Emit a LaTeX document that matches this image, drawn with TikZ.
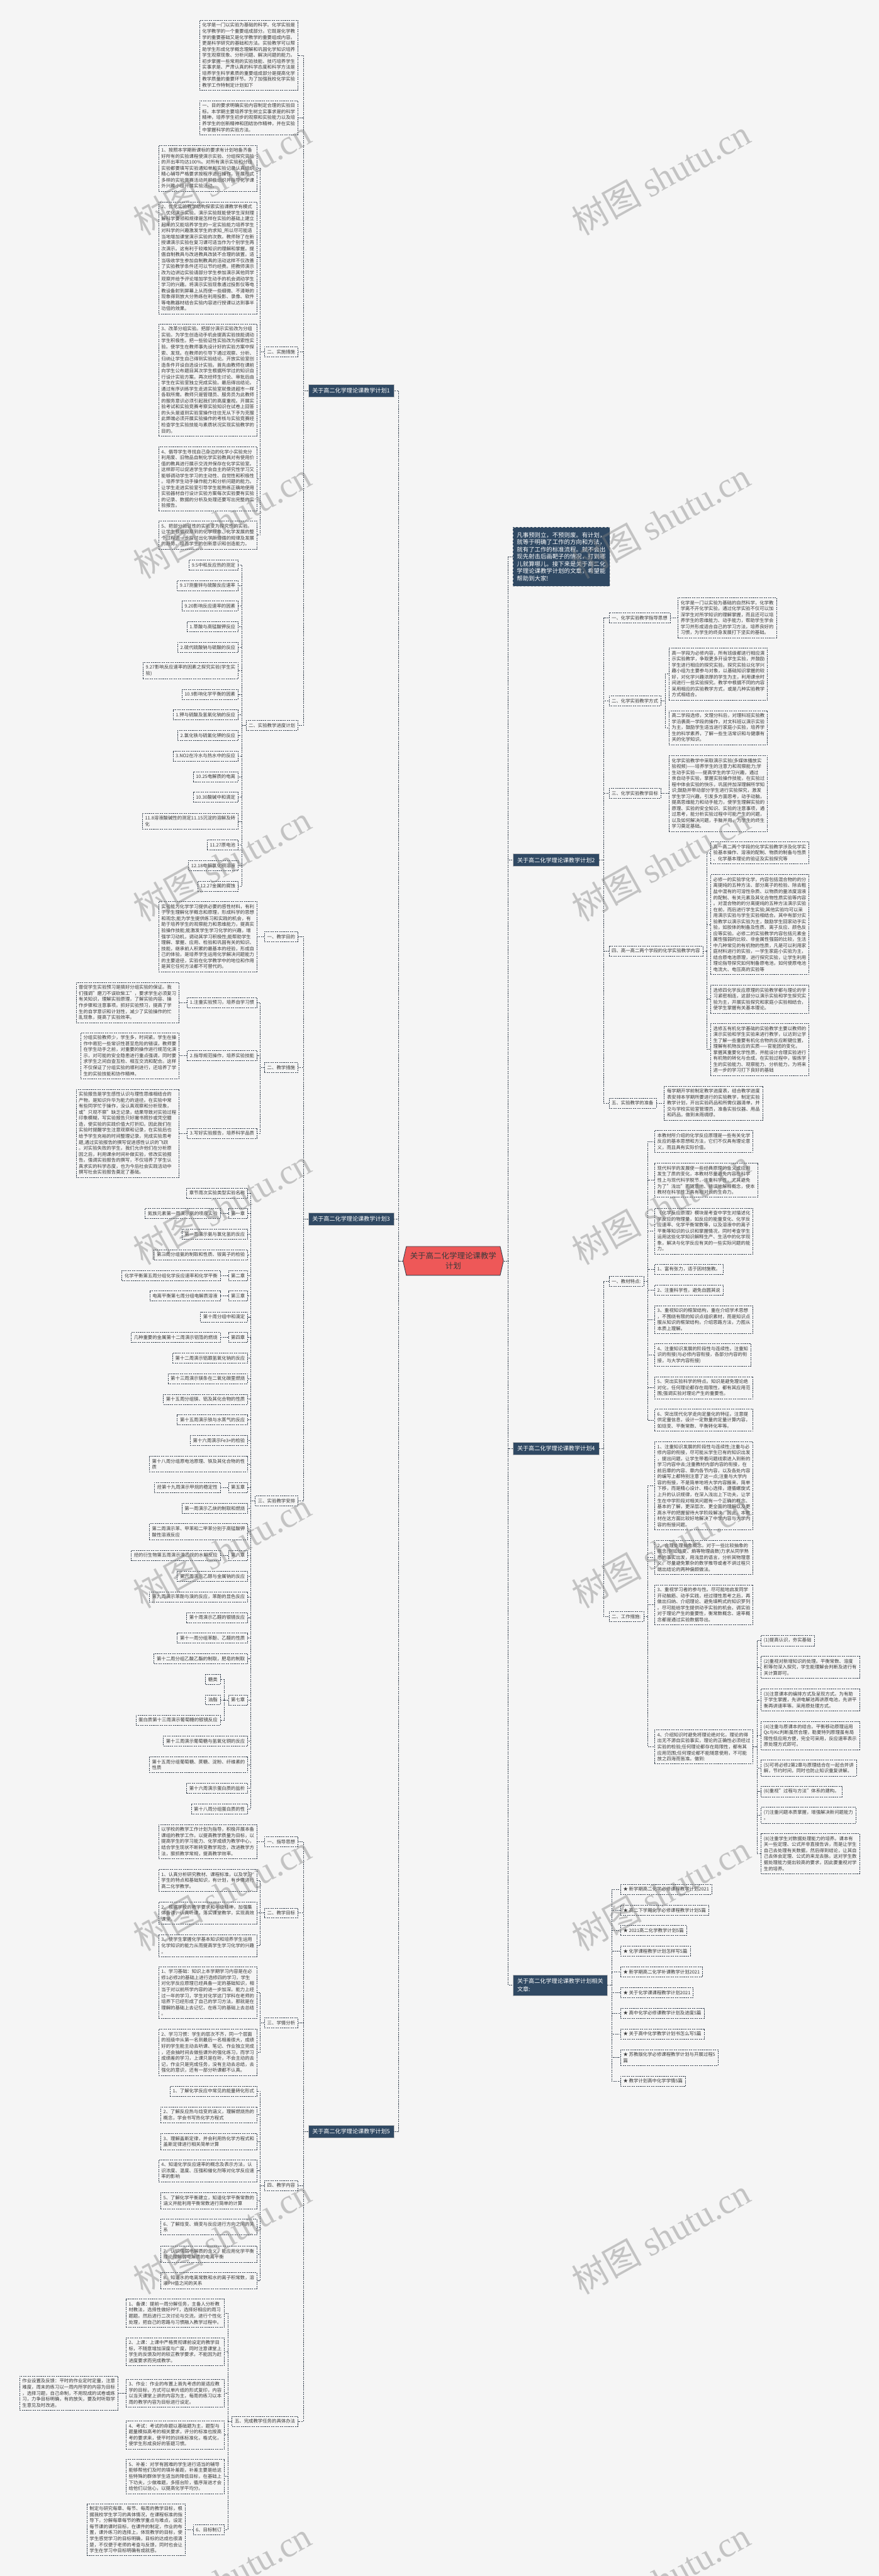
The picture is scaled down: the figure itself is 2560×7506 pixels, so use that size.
\documentclass[tikz,border=0pt]{standalone}
\usepackage{fontspec}
\setmainfont{Noto Sans CJK SC}
\newfontfamily\wmlatin{Liberation Serif}
\usetikzlibrary{shapes.symbols}

\definecolor{bgc}{RGB}{245,245,245}
\definecolor{hdrc}{RGB}{48,73,99}
\definecolor{rootc}{RGB}{238,88,88}
\definecolor{linec}{RGB}{52,64,78}
\definecolor{textc}{RGB}{58,58,58}

\newcommand{\leaffont}{\fontsize{7.7pt}{9.95pt}\selectfont}
\newcommand{\hdrfont}{\fontsize{9.5pt}{13.5pt}\selectfont}
\newcommand{\introfont}{\fontsize{9.8pt}{12pt}\selectfont}
\newcommand{\rootfont}{\fontsize{13pt}{16.5pt}\selectfont}
\newcommand{\wmarkfont}{\fontsize{58pt}{60pt}\selectfont}

\tikzset{
  leaf/.style={draw=linec, dash pattern=on 2.2pt off 1.4pt, line width=0.55pt,
    text=textc, font=\leaffont, align=left, inner xsep=0.16cm, inner ysep=0.165cm},
  hdr/.style={draw=gray!45, fill=hdrc, text=white, font=\hdrfont, align=left,
    inner xsep=0.24cm, inner ysep=0.21cm},
  introbox/.style={hdr, dashed, font=\introfont, inner xsep=0.24cm, inner ysep=0.3cm},
  rootbox/.style={shape=signal, signal to=east and west, signal pointer angle=154,
    draw=linec, line width=0.9pt, fill=rootc, text=textc, font=\rootfont,
    align=center, inner xsep=0.22cm, inner ysep=0.34cm},
  link/.style={draw=linec, dash pattern=on 2.2pt off 1.4pt, line width=0.7pt},
  wmark/.style={text=gray, opacity=0.42, rotate=29, font=\wmarkfont}
}

\begin{document}
\begin{tikzpicture}[x=0.02cm, y=-0.02cm]
    \useasboundingbox (0,0) rectangle (2560,7506);
    \fill[bgc] (0,0) rectangle (2560,7506);

    % Root
    \node[rootbox] (root) at (1320,3674) {关于高二化学理论课教学\\计划};

    % Right: intro
    \node[introbox, anchor=west] (intro) at (1493,1622) {凡事预则立，不预则废。有计划，\\就等于明确了工作的方向和方法，\\就有了工作的标准流程。就不会出\\现先射击后画靶子的情况，打到哪\\儿就算哪儿。接下来是关于高二化\\学理论课教学计划的文章，希望能\\帮助到大家!};

    % Right: plan 2
    \node[hdr, anchor=west] (plan2) at (1494,2506) {关于高二化学理论课教学计划2};
    \node[leaf, anchor=west] (p2a) at (1773,1800) {一、化学实验教学指导思想};
    \node[leaf, anchor=west] (p2a1) at (1974,1800) {化学是一门以实验为基础的自然科学，化学教\\学离不开化学实验，通过化学实验不仅可以加\\深学生对所学知识的理解掌握，而且还可以培\\养学生的思维能力、动手能力，帮助学生学会\\学习并形成适合自己的学习方法，培养良好的\\习惯，为学生的终身发展打下坚实的基础。};
    \node[leaf, anchor=west] (p2b) at (1773,2042) {二、化学实验教学方式};
    \node[leaf, anchor=west] (p2b1) at (1948,1964) {高一学段为必修内容，所有班级都进行相应演\\示实验教学，争取更多开设学生实验，并鼓励\\学生进行相应的探究实验。探究实验以化学兴\\趣小组为主要参与对象，以基础知识掌握的较\\好，对化学兴趣浓厚的学生为主，利用课余时\\间进行一些实验探究。教学中根据不同的内容\\采用相应的实验教学方式，或是几种实验教学\\方式相结合。};
    \node[leaf, anchor=west] (p2b2) at (1948,2120) {高二学段选修，文理分科后，对理科班实验教\\学沿袭高一学段的操作，对文科班以演示实验\\为主，鼓励学生适当进行家庭小实验，培养学\\生的科学素养，了解一些生活常识和与健康有\\关的化学知识。};
    \node[leaf, anchor=west] (p2c) at (1773,2312) {三、化学实验教学目标};
    \node[leaf, anchor=west] (p2c1) at (1948,2312) {化学实验教学中采取演示实验(多媒体播放实\\验视频)——培养学生的注意力和观察能力;学\\生动手实验——提高学生的学习兴趣，通过\\亲自动手实验，掌握实验操作技能，在实验过\\程中体会实验的快乐，巩固并加深理解所学知\\识;鼓励并带动部分学生进行实验探究，激发\\学生学习兴趣，引发多方面思考，动手动脑，\\提高思维能力和动手能力，使学生理解实验的\\原理、实验的安全知识、实验的注意事项，通\\过思考，能分析实验过程中可能产生的问题，\\以及如何解决问题，手脑并用，为学生的终生\\学习奠定基础。};
    \node[leaf, anchor=west] (p2d) at (1773,2771) {四、高一高二两个学段的化学实验教学内容};
    \node[leaf, anchor=west] (p2d1) at (2069,2485) {高一高二两个学段的化学实验教学涉及化学实\\验基本操作、溶液的配制、物质的制备与性质\\、化学基本理论的验证及实验探究等};
    \node[leaf, anchor=west] (p2d2) at (2069,2694) {必修一的实验学化学，内容包括混合物的的分\\离提纯的五种方法、部分离子的检验、除去粗\\盐中混有的可溶性杂质、以物质的量浓度溶液\\的配制、有关元素及其化合物性质实验等内容\\。对混合物的的分离提纯的五种方法演示实验\\在前，而后进行学生实验;其他实验均可以采\\用演示实验与学生实验相结合。其中有部分实\\验教学以演示实验为主，鼓励学生回家动手实\\验，如胶体的制备及性质、离子反应、颜色反\\应等实验。必修二的实验教学内容包括元素金\\属性强弱的比较、非金属性强弱的比较，生活\\中几种常见的有机物的性质，凡是可以利用家\\庭材料进行的实验，一学生家庭小实验为主，\\结合原电池原理，进行探究实验，让学生利用\\理论指导探究如何制备原电池，如何使原电池\\电流大、电压高的实验等};
    \node[leaf, anchor=west] (p2d3) at (2069,2911) {选修四化学反应原理的实验教学都与理论的学\\习紧密相连，这部分以演示实验和学生探究实\\验为主，开展实验探究和家庭小实验相结合，\\使学生掌握有关基本理论。};
    \node[leaf, anchor=west] (p2d4) at (2069,3058) {选修五有机化学基础的实验教学主要以教师的\\演示实验和学生实验来进行教学，以达到让学\\生了解一些重要有机化合物的反应断键位置，\\理解有机物反应的实质——官能团的变化，\\掌握其重要化学性质，并能设计合理实验进行\\有机物的转化与合成，在实验过程中，锻炼学\\生的实验能力、观察能力、分析能力，为将来\\进一步的学习打下良好的基础};
    \node[leaf, anchor=west] (p2e) at (1773,3214) {五、实验教学的准备};
    \node[leaf, anchor=west] (p2e1) at (1934,3214) {每学期开学前制定教学进度表，结合教学进度\\表安排本学期所要进行的实验教学，制定实验\\教学计划，开出实验药品和所需仪器清单，并\\交与学校实验室管理员，准备实验仪器、用品\\和药品，做到未雨绸缪。};

    % Right: plan 4
    \node[hdr, anchor=west] (plan4) at (1494,4221) {关于高二化学理论课教学计划4};
    \node[leaf, anchor=west] (p4a) at (1773,3734) {一、教材特点:};
    \node[leaf, anchor=west] (p4a1) at (1906,3326) {本教材所介绍的化学反应原理是一些有关化学\\反应的基本思想和方法，它们不仅具有理论意\\义，而且具有实际价值。};
    \node[leaf, anchor=west] (p4a2) at (1906,3439) {现代科学的发展使一些经典原理的含义或应用\\发生了质的变化，本教材尽量避免内容在科学\\性上与现代科学脱节，注重科学性，尤其避免\\为了"浅出"而随意地、错误地解释概念，使本\\教材在科学性上具有相对长的生命力。};
    \node[leaf, anchor=west] (p4a3) at (1906,3587) {《化学反应原理》模块是考查中学生对描述化\\学反应的物理量，如反应的能量变化、化学反\\应速率、化学平衡常数等，以及溶液中的离子\\平衡等知识的认识和掌握情况，同时考查学生\\运用这些化学知识解释生产、生活中的化学现\\象，解决与化学反应有关的一些实际问题的能\\力。};
    \node[leaf, anchor=west] (p4a4) at (1906,3698) {1、富有张力，适于因材施教。};
    \node[leaf, anchor=west] (p4a5) at (1906,3759) {2、注重科学性，避免自圆其说};
    \node[leaf, anchor=west] (p4a6) at (1906,3845) {3、重视知识的框架结构，重在介绍学术思想\\，不围绕有限的知识点组织素材，而是知识点\\服从知识的框架结构，介绍思路方法，力图从\\本质上理解。};
    \node[leaf, anchor=west] (p4a7) at (1906,3948) {4、注重知识发展的阶段性与连续性。注重知\\识的衔接(与必修内容衔接，各部分内容的衔\\接，与大学内容衔接)};
    \node[leaf, anchor=west] (p4a8) at (1906,4044) {5、突出实验科学的特点。知识是避免理论绝\\对化，任何理论都存在局限性，都有其应用范\\围;强调实验对理论产生的重要性。};
    \node[leaf, anchor=west] (p4a9) at (1906,4138) {6、突出现代化学走向定量化的特征。注意提\\供定量信息，设计一定数量的定量计算内容，\\如焓变、平衡常数、平衡转化率等。};
    \node[leaf, anchor=west] (p4b) at (1773,4710) {二、工作措施:};
    \node[leaf, anchor=west] (p4b1) at (1906,4329) {1、注重知识发展的阶段性与连续性;注重与必\\修内容的衔接，尽可能从学生已有的知识出发\\，提出问题，让学生带着问题线索进入到新的\\学习内容中去;注重教材内部内容的衔接，在\\前后章的内容、章内各节内容，以及各处内容\\的编写上都特别注意了这一点;注重与大学内\\容的衔接，不是简单地将大学内容搬来，简单\\下移，而是精心设计、精心选择，遵循螺旋式\\上升的认识规律，在深入浅出上下功夫，让学\\生在中学阶段对相关问题有一个正确的概念、\\基本的了解，更深层次、更全面的理解以及更\\高水平的把握留待大学阶段解决。因此，本教\\材在这方面比较好地解决了中学内容与大学内\\容的衔接问题。};
    \node[leaf, anchor=west] (p4b2) at (1906,4538) {2、合理处理抽象概念。对于一些比较抽象的\\概念(例如焓变、熵等物理函数)力求从同学熟\\悉的事实出发，用浅显的语言，分析其物理意\\义。尽量避免繁杂的数学推导或者不讲过程只\\端出结论的两种偏颇做法。};
    \node[leaf, anchor=west] (p4b3) at (1906,4676) {3、重视学习者的参与性。尽可能地启发同学\\开动脑筋、动手实践，经过理性思考之后，再\\做出归纳、介绍理论、避免填鸭式的知识罗列\\。尽可能给学生提供动手实验的机会。调实验\\对于理论产生的重要性，衡常数概念、速率概\\念都是通过实验数据导出。};
    \node[leaf, anchor=west] (p4b4) at (1906,5090) {4、介绍知识时避免将理论绝对化，理论的得\\出无不源自实验事实，理论的正确性必须经过\\实验的检验;任何理论都存在局限性，都有其\\应用范围;任何理论都不能随意使用，不可能\\放之四海而皆准。做到:};
    \node[leaf, anchor=west] (p4c1) at (2216,4780) {(1)提高认识，夯实基础};
    \node[leaf, anchor=west] (p4c2) at (2216,4858) {(2)重视对新增知识的处理。平衡常数、溶度\\积等勿深入探究，学生能理解会判断及进行有\\关计算即可。};
    \node[leaf, anchor=west] (p4c3) at (2216,4953) {(3)注意课本的编排方式及呈现方式。为有助\\于学生掌握，先讲电解池再讲原电池，先讲平\\衡再讲速率等。采用原处理方式。};
    \node[leaf, anchor=west] (p4c4) at (2216,5057) {(4)注重与原课本的结合。平衡移动原理运用\\Qc与Kc判断虽然合理，勒夏特列原理虽有局\\限性但应用方便，完全可采用，反应速率表示\\原处理方式即可。};
    \node[leaf, anchor=west] (p4c5) at (2216,5152) {(5)可将必修2第2章与原理结合在一起合并讲\\解，节约时间，同时也防止知识重复讲解。};
    \node[leaf, anchor=west] (p4c6) at (2216,5220) {(6)重视"过程与方法"体系的建构。};
    \node[leaf, anchor=west] (p4c7) at (2216,5289) {(7)注重问题本质掌握，增强解决新问题能力\\。};
    \node[leaf, anchor=west] (p4c8) at (2216,5401) {(8)注重学生对数据处理能力的培养。课本有\\关一些定理、公式并非直接告诉，而是让学生\\自己去处理有关数据，然后得到结论，让其自\\己去体会定理、公式的来龙去脉。这对学生数\\据处理能力提出较高的要求，因此要重视对学\\生的培养。};

    % Right: related articles
    \node[hdr, anchor=west] (related) at (1494,5784) {关于高二化学理论课教学计划相关\\文章:};
    \node[leaf, anchor=west] (rel1) at (1807,5505) {★ 新学期高二化学必修课程教学计划2021};
    \node[leaf, anchor=west] (rel2) at (1807,5566) {★ 高二下学期化学必修课程教学计划5篇};
    \node[leaf, anchor=west] (rel3) at (1807,5625) {★ 2021高二化学教学计划5篇};
    \node[leaf, anchor=west] (rel4) at (1807,5685) {★ 化学课程教学计划怎样写5篇};
    \node[leaf, anchor=west] (rel5) at (1807,5746) {★ 新学期高二化学补课教学计划2021};
    \node[leaf, anchor=west] (rel6) at (1807,5806) {★ 关于化学课课程教学计划2021};
    \node[leaf, anchor=west] (rel7) at (1807,5866) {★ 高中化学必修课教学计划及进度5篇};
    \node[leaf, anchor=west] (rel8) at (1807,5926) {★ 关于高中化学教学计划书怎么写5篇};
    \node[leaf, anchor=west] (rel9) at (1807,5995) {★ 苏教版化学必修课程教学计划与开展过程5\\篇};
    \node[leaf, anchor=west] (rel10) at (1807,6064) {★ 教学计划高中化学学情5篇};

    % Left: plan 1
    \node[hdr, anchor=east] (plan1) at (1148,1138) {关于高二化学理论课教学计划1};
    \node[leaf, anchor=east] (p1a) at (868,161) {化学是一门以实验为基础的科学。化学实验是\\化学教学的一个重要组成部分。它既是化学教\\学的重要基础又是化学教学的重要组成内容。\\更是科学研究的基础和方法。实验教学可以帮\\助学生形成化学概念理解和巩固化学知识培养\\学生观察现象、分析问题、解决问题的能力。\\初步掌握一些常用的实验技能、技巧培养学生\\实事求是、严肃认真的科学态度和科学方法是\\培养学生科学素质的重要组成部分是提高化学\\教学质量的重要环节。为了加强我校化学实验\\教学工作特制定计划如下};
    \node[leaf, anchor=east] (p1b) at (868,343) {一、目的要求明确实验内容制定合理的实验目\\标。本学期主要培养学生树立实事求是的科学\\精神，培养学生初步的观察和实验能力以及培\\养学生的创新精神和团结协作精神，并在实验\\中掌握科学的实验方法。};
    \node[leaf, anchor=east] (p1c) at (868,1025) {二、实施措施};
    \node[leaf, anchor=east] (p1c1) at (749,490) {1、按照本学期新课标的要求有计划地备齐备\\好所有的实验课程使演示实验、分组探究实验\\的开出率均达100\%。对所有演示实验和分组\\实验都要填写实验通知单和实验记录认真组织\\精心辅导严格要求按程序进行操作。开展形式\\多样的实验竞赛活动并积极组织并指导化学课\\外兴趣小组开展实验活动。};
    \node[leaf, anchor=east] (p1c2) at (749,751) {2、优化实验教学结构探索实验课教学有模式\\。优化演示实验。演示实验既能使学生深刻理\\解科学要领和规律是怎样在实验的基础上建立\\起来的又能培养学生的一定实验能力培养学生\\对科学的兴趣激发学生的求知\_所以尽可能适\\当地增加课堂演示实验的次数。教师除了在新\\授课演示实验在复习课可适当作为个别学生再\\次演示。这有利于较难知识的理解和掌握。提\\倡自制教具与改进教具改装不合理的装置。适\\当吸收学生参加自制教具的活动这样不仅改善\\了实验教学条件还可以节约经费。把教师演示\\改为边讲边实验请部分学生参加演示其他同学\\观察并给予评论增加学生动手的机会调动学生\\学习的兴趣。将演示实验现象通过投影仪等电\\教设备射到屏幕上从而使一些细微、不清晰的\\现象得到放大分熟练在利用投影、录像、软件\\等电教器材结合实验内容进行授课以达到事半\\功倍的效果。};
    \node[leaf, anchor=east] (p1c3) at (749,1107) {3、改革分组实验。把部分演示实验改为分组\\实验。为学生创造动手机会提高实验技能调动\\学生积极性。把一些验证性实验改为探索性实\\验。使学生在教师事先设计好的实验方案中探\\索、发现。在教师的引导下通过观察、分析、\\归纳让学生自己得到实验结论。开放实验室创\\造条件开设自选设计实验。首先由教师在课前\\向学生公布题目其次学生根据所学过的知识自\\行设计实验方案。再次经师生讨论、审批后由\\学生在实验室独立完成实验。最后得出结论。\\通过有序训练学生走进实验室就像进超市一样\\各取所需。教师只是管理员、服务员为此教师\\的服务意识必须引起我们的高度重视。开展实\\验考试和实验竞赛考察实验知识在试卷上回答\\的头头是道到实验室操作往往无从下手为克服\\此弊端必须开展实验操作的考核与实验竞赛经\\检查学生实验技能与素质状况实现实验教学的\\目的。};
    \node[leaf, anchor=east] (p1c4) at (749,1395) {4、倡导学生寻找自己身边的化学小实验充分\\利用废、旧物品自制化学实验教具对有使用价\\值的教具进行展示交流并保存在化学实验室。\\这样即可以促进学生学会自主的研究性学习又\\能够调动学生学习的主动性、自觉性和积极性\\。培养学生动手操作能力和分析问题的能力。\\让学生走进实验室引导学生能熟练正确地使用\\实验器材自行设计实验方案每次实验要有实验\\的记录、数据的分析及处理还要写出完整的实\\验报告。};
    \node[leaf, anchor=east] (p1c5) at (749,1559) {5、把部分验证性的实验变为探究性的实验。\\让学生根据观察到的化学现象、化学发展的整\\个过程进一步探讨出化学所遵循的规律及发展\\的趋势。培养学生的创新意识和创造能力。};
    \node[leaf, anchor=east] (p1d) at (868,2114) {二、实验教学进度计划};
    \node[leaf, anchor=east] (p1d1) at (694,1646) {9.5中和反应热的测定};
    \node[leaf, anchor=east] (p1d2) at (694,1706) {9.17测量锌与硫酸反应速率};
    \node[leaf, anchor=east] (p1d3) at (694,1766) {9.20影响反应速率的因素};
    \node[leaf, anchor=east] (p1d4) at (694,1826) {1.草酸与高锰酸钾反应};
    \node[leaf, anchor=east] (p1d5) at (694,1886) {2.硫代硫酸钠与硫酸的反应};
    \node[leaf, anchor=east] (p1d6) at (694,1954) {9.27影响反应速率的因素之探究实验(学生实\\验)};
    \node[leaf, anchor=east] (p1d7) at (694,2023) {10.9影响化学平衡的因素};
    \node[leaf, anchor=east] (p1d8) at (694,2083) {1.钾与硫酸及氢氧化钠的反应};
    \node[leaf, anchor=east] (p1d9) at (694,2143) {2.氯化铁与硫氰化钾的反应};
    \node[leaf, anchor=east] (p1d10) at (694,2203) {3.NO2在冷水与热水中的反应};
    \node[leaf, anchor=east] (p1d11) at (694,2263) {10.25电解质的电离};
    \node[leaf, anchor=east] (p1d12) at (694,2323) {10.30酸碱中和滴定};
    \node[leaf, anchor=east] (p1d13) at (694,2393) {11.8溶液酸碱性的测定11.15沉淀的溶解及转\\化};
    \node[leaf, anchor=east] (p1d14) at (694,2462) {11.27原电池};
    \node[leaf, anchor=east] (p1d15) at (694,2522) {12.18电解氯化铜溶液};
    \node[leaf, anchor=east] (p1d16) at (694,2582) {12.27金属的腐蚀};

    % Left: plan 3
    \node[hdr, anchor=east] (plan3) at (1148,3552) {关于高二化学理论课教学计划3};
    \node[leaf, anchor=east] (p3a) at (868,2729) {一、教学目的};
    \node[leaf, anchor=east] (p3a1) at (749,2729) {实验能为化学学习提供必要的感性材料，有利\\于学生理解化学概念和原理，形成科学的思想\\和观念;能为学生提供练习和实践的机会，有\\助于培养学生的观察能力和思维能力，提高实\\验操作技能;能激发学生学习化学的兴趣，增\\强学习动机，调动其学习积极性;能帮助学生\\理解、掌握、应用、检验和巩固有关的知识、\\技能，继承前人积累的最基本的经验，形成自\\己的体验，是培养学生运用化学解决问题能力\\的主要途径，实验在化学教学中的地位和作用\\是其它任何方法都不可替代的。};
    \node[leaf, anchor=east] (p3b) at (868,3111) {二、教学措施};
    \node[leaf, anchor=east] (p3b1) at (749,2921) {1.注重实验预习，培养自学习惯};
    \node[leaf, anchor=east] (p3b1x) at (522,2921) {督促学生实验预习是搞好分组实验的保证。我\\们强调"磨刀不误砍柴工"，要求学生必须复习\\有关知识，理解实验原理，了解实验内容、操\\作步骤和注意事项。抓好实验预习，提高了学\\生的自学意识和计划性，减少了实验操作的忙\\乱现象，提高了实验效率。};
    \node[leaf, anchor=east] (p3b2) at (749,3076) {2.指导规范操作，培养实验技能};
    \node[leaf, anchor=east] (p3b2x) at (522,3076) {分组实验教师少，学生多，时间紧。学生在操\\作中易犯一些常识性甚至危险的错误，教师要\\在学生动手之前，对重要的操作进行规范化演\\示，对可能的安全隐患进行重点强调，同时要\\求学生之间自查互检、相互交流和配合。这样\\不仅保证了分组实验的顺利进行，还培养了学\\生的实验技能和协作精神。};
    \node[leaf, anchor=east] (p3b3) at (749,3302) {3.写好实验报告，培养科学品质};
    \node[leaf, anchor=east] (p3b3x) at (522,3302) {实验报告是学生感性认识与理性思维相结合的\\产物，是知识升华为能力的途径。在实验中常\\有些同学忙于操作，没认真观察和分析现象，\\或"只观不察"缺乏记录，结果导致对实验过程\\印象模糊，写实验报告只好撇书照抄或凭空臆\\造，使实验的实践价值大打折扣。因此我们在\\实验时提醒学生注意观察和记录，在实验后也\\给予学生充裕的时间整理记录，完成实验思考\\题,通过实验报告的撰写促进感性认识的飞跃\\。对实验失败的学生，我们允许他们在分析原\\因之后，利用课余时间补做实验，修改实验报\\告。强调实验报告的撰写，不仅培养了学生认\\真求实的科学态度，也为今后社会实践活动中\\撰写社会实验报告奠定了基础。};
    \node[leaf, anchor=east] (p3c) at (868,4373) {三、实验教学安排};
    \node[leaf, anchor=east] (p3c1) at (722,3476) {章节周次实验类型实验名称};
    \node[leaf, anchor=east] (p3c2) at (722,3536) {第一章};
    \node[leaf, anchor=east] (p3c2x) at (642,3536) {氮族元素第一周演示氨的喷泉实验};
    \node[leaf, anchor=east] (p3c3) at (722,3596) {第一周演示氨与氯化氢的反应};
    \node[leaf, anchor=east] (p3c4) at (722,3656) {第三周分组氨的制取和性质、铵离子的检验};
    \node[leaf, anchor=east] (p3c5) at (722,3717) {第二章};
    \node[leaf, anchor=east] (p3c5x) at (642,3717) {化学平衡第五周分组化学反应速率和化学平衡};
    \node[leaf, anchor=east] (p3c6) at (722,3776) {第三章};
    \node[leaf, anchor=east] (p3c6x) at (642,3776) {电离平衡第七周分组电解质溶液};
    \node[leaf, anchor=east] (p3c7) at (722,3837) {第十周分组中和滴定};
    \node[leaf, anchor=east] (p3c8) at (722,3897) {第四章};
    \node[leaf, anchor=east] (p3c8x) at (642,3897) {几种重要的金属第十二周演示铝箔的燃烧};
    \node[leaf, anchor=east] (p3c9) at (722,3957) {第十二周演示铝跟氢氧化钠的反应};
    \node[leaf, anchor=east] (p3c10) at (722,4017) {第十三周演示镁条在二氧化碳里燃烧};
    \node[leaf, anchor=east] (p3c11) at (722,4077) {第十五周分组镁、铝及其化合物的性质};
    \node[leaf, anchor=east] (p3c12) at (722,4137) {第十五周演示铁与水蒸气的反应};
    \node[leaf, anchor=east] (p3c13) at (722,4197) {第十六周演示Fe3+的检验};
    \node[leaf, anchor=east] (p3c14) at (722,4266) {第十八周分组原电池原理、铁及其化合物的性\\质};
    \node[leaf, anchor=east] (p3c15) at (722,4334) {第五章};
    \node[leaf, anchor=east] (p3c15x) at (642,4334) {烃第十九周演示甲烷的稳定性};
    \node[leaf, anchor=east] (p3c16) at (722,4395) {第一周演示乙炔的制取和燃烧};
    \node[leaf, anchor=east] (p3c17) at (722,4463) {第二周演示苯、甲苯和二甲苯分别于高锰酸钾\\酸性溶液反应};
    \node[leaf, anchor=east] (p3c18) at (722,4532) {第六章};
    \node[leaf, anchor=east] (p3c18x) at (642,4532) {烃的衍生物第五周演示溴乙烷的水解反应};
    \node[leaf, anchor=east] (p3c19) at (722,4593) {第六周演示乙醇与金属钠的反应};
    \node[leaf, anchor=east] (p3c20) at (722,4653) {第九周演示苯酚与溴的反应，苯酚的显色反应};
    \node[leaf, anchor=east] (p3c21) at (722,4713) {第十周演示乙醛的银镜反应};
    \node[leaf, anchor=east] (p3c22) at (722,4773) {第十一周分组苯酚、乙醛的性质};
    \node[leaf, anchor=east] (p3c23) at (722,4833) {第十二周分组乙酸乙酯的制取，肥皂的制取};
    \node[leaf, anchor=east] (p3c24) at (722,4953) {第七章};
    \node[leaf, anchor=east] (p3c24a) at (642,4894) {糖类};
    \node[leaf, anchor=east] (p3c24b) at (642,4953) {油脂};
    \node[leaf, anchor=east] (p3c24c) at (642,5012) {蛋白质第十三周演示葡萄糖的银镜反应};
    \node[leaf, anchor=east] (p3c25) at (722,5073) {第十三周演示葡萄糖与氢氧化铜的反应};
    \node[leaf, anchor=east] (p3c26) at (722,5142) {第十五周分组葡萄糖、蔗糖、淀粉、纤维素的\\性质};
    \node[leaf, anchor=east] (p3c27) at (722,5211) {第十六周演示蛋白质的盐析};
    \node[leaf, anchor=east] (p3c28) at (722,5271) {第十八周分组蛋白质的性};

    % Left: plan 5
    \node[hdr, anchor=east] (plan5) at (1148,6211) {关于高二化学理论课教学计划5};
    \node[leaf, anchor=east] (p5a) at (868,5366) {一、指导思想};
    \node[leaf, anchor=east] (p5a1) at (749,5366) {以学校的教学工作计划为指导，积极开展本备\\课组的教学工作。以提高教学质量为目标，以\\提高学生的学习能力、化学成绩为教学中心，\\结合学生现状不断转变教学观念，改进教学方\\法，狠抓教学常规，提高教学效率。};
    \node[leaf, anchor=east] (p5b) at (868,5574) {二、教学目标};
    \node[leaf, anchor=east] (p5b1) at (749,5479) {1、认真分析研究教材、课程标准，以及学习\\学生的特点和基础知识，有计划，有步骤进行\\高二化学教学。};
    \node[leaf, anchor=east] (p5b2) at (749,5574) {2、根据学校的教学要求和年级精神，加强集\\体备课，认真听课，落实课堂教学，实现高效\\课堂。};
    \node[leaf, anchor=east] (p5b3) at (749,5669) {3、使学生掌握化学基本知识和培养学生运用\\化学知识的能力从而提高学生学习化学的兴趣\\。};
    \node[leaf, anchor=east] (p5c) at (868,5894) {三、学情分析};
    \node[leaf, anchor=east] (p5c1) at (749,5806) {1、学习基础：知识上本学期学习内容是在必\\修1必修2的基础上进行选修四的学习，学生\\对化学反应原理已经具备一定的基础知识，相\\当于对以前所学内容的进一步加深。能力上经\\过一年的学习，学生对化学这门学科在老师的\\培养下已经形成了自己的学习方法，那就是在\\理解的基础上去记忆，在练习的基础上去总结\\。};
    \node[leaf, anchor=east] (p5c2) at (749,5980) {2、学习习惯：学生的层次不齐，同一个层面\\的班级中从第一名到最后一名相差很大，成绩\\好的学生能主动去听课、笔记、作业独立完成\\，还会抽时间去做些课外的强化练习，而学习\\成绩差的学习，上课只是在听，不会主动的去\\记，作业只是完成任务，没有主动去总结，去\\强化的意识，还有一部分听课都不认真。};
    \node[leaf, anchor=east] (p5d) at (868,6368) {四、教学内容};
    \node[leaf, anchor=east] (p5d1) at (749,6093) {1、了解化学反应中常见的能量转化形式};
    \node[leaf, anchor=east] (p5d2) at (749,6162) {2、了解反应热与焓变的涵义，理解燃烧热的\\概念，学会书写热化学方程式};
    \node[leaf, anchor=east] (p5d3) at (749,6240) {3、理解盖斯定律，并会利用热化学方程式和\\盖斯定律进行相关简单计算};
    \node[leaf, anchor=east] (p5d4) at (749,6325) {4、知道化学反应速率的概念及表示方法，认\\识浓度、温度、压强和催化剂等对化学反应速\\率的影响};
    \node[leaf, anchor=east] (p5d5) at (749,6412) {5、了解化学平衡建立，知道化学平衡常数的\\涵义并能利用平衡常数进行简单的计算};
    \node[leaf, anchor=east] (p5d6) at (749,6489) {6、了解焓变、熵变与反应进行方向之间的关\\系};
    \node[leaf, anchor=east] (p5d7) at (749,6568) {7、认识强弱电解质的含义，能应用化学平衡\\理论理解弱电解质的电离平衡};
    \node[leaf, anchor=east] (p5d8) at (749,6645) {8、知道水的电离常数和水的离子积常数，溶\\液PH值之间的关系};
    \node[leaf, anchor=east] (p5e) at (868,7055) {五、完成教学任务的具体办法};
    \node[leaf, anchor=east] (p5e1) at (654,6740) {1、备课：提前一周分解任务，主备人分析教\\材教法，选择性做好PPT，选择好相应的周习\\题题。然后进行二次讨论与交流，进行个性化\\处理，把自己的思路与习惯融入教学过程中。};
    \node[leaf, anchor=east] (p5e2) at (654,6852) {2、上课：上课中严格贯彻课前设定的教学目\\标，不随意增加深度与广度，同时注意课堂上\\学生的反馈及时的较正教学要求，不能因为赶\\进度要求而完成教学。};
    \node[leaf, anchor=east] (p5e3) at (654,6973) {3、作业：作业的布置上首先考虑的是适应教\\学的目标，方式可以单片纸的形式复印，内容\\以当天课堂上讲的内容为主，每周的练习以本\\周的教学内容为目标进行设定。};
    \node[leaf, anchor=east] (p5e3x) at (344,6973) {作业设置及反馈：平时的作业定时定量，注意\\难度，周末的练习以一周内所学的内容为目标\\，选择习题，自己命制，不用现成的试卷或练\\习，力争目标明确，有的放矢，要及时听取学\\生意见及时改进。};
    \node[leaf, anchor=east] (p5e4) at (654,7095) {4、考试：考试的命题以基础题为主，题型与\\题量模拟高考的相关要求，评分的标准也按高\\考的要求来，使平时的训练标准化，格式化，\\使学生形成良好的答题习惯。};
    \node[leaf, anchor=east] (p5e5) at (654,7216) {5、补差：对学有困难的学生进行适当的辅导\\能够帮他们及时的填补差距，补差主要是给这\\些特殊的群体学生适当的降低目标，在基础上\\下功夫，少做难题，多搭台阶，循序渐进才会\\给他们以信心，以提高化学平均分。};
    \node[leaf, anchor=east] (p5e6) at (654,7371) {6、目标制订};
    \node[leaf, anchor=east] (p5e6x) at (540,7371) {制定与研究每章、每节、每周的教学目标，根\\据我校学生学习的具体情况，在课程标准的指\\导下，分解每章每节的教学重点与难点，设定\\每节课的课时目标，在课件的制定，作业的布\\置，课外练习的选择上，体现教学的目标，使\\学生感觉学习的目标明确，目标的达成也很清\\楚，不仅便于老师的考查与反馈，同时也会让\\学生在学习中目标明确有成就感。};

    % Connectors: root
    \foreach \n in {intro,plan2,plan4,related}
        \draw[link] (root.east) -- ++(13,0) |- (\n.west);
    \foreach \n in {plan1,plan3,plan5}
        \draw[link] (root.west) -- ++(-12,0) |- (\n.east);

    % Connectors: right side
    \foreach \n in {p2a,p2b,p2c,p2d,p2e}
        \draw[link] (plan2.east) -- ++(13,0) |- (\n.west);
    \draw[link] (p2a.east) -- (p2a1.west);
    \foreach \n in {p2b1,p2b2}
        \draw[link] (p2b.east) -- ++(12,0) |- (\n.west);
    \draw[link] (p2c.east) -- (p2c1.west);
    \foreach \i in {1,...,4}
        \draw[link] (p2d.east) -- ++(12,0) |- (p2d\i.west);
    \draw[link] (p2e.east) -- (p2e1.west);
    \foreach \n in {p4a,p4b}
        \draw[link] (plan4.east) -- ++(13,0) |- (\n.west);
    \foreach \i in {1,...,9}
        \draw[link] (p4a.east) -- ++(12,0) |- (p4a\i.west);
    \foreach \i in {1,...,4}
        \draw[link] (p4b.east) -- ++(12,0) |- (p4b\i.west);
    \foreach \i in {1,...,8}
        \draw[link] (p4b4.east) -- ++(12,0) |- (p4c\i.west);
    \foreach \i in {1,...,10}
        \draw[link] (related.east) -- ++(13,0) |- (rel\i.west);

    % Connectors: left side
    \foreach \n in {p1a,p1b,p1c,p1d}
        \draw[link] (plan1.west) -- ++(-14,0) |- (\n.east);
    \foreach \i in {1,...,5}
        \draw[link] (p1c.west) -- ++(-12,0) |- (p1c\i.east);
    \foreach \i in {1,...,16}
        \draw[link] (p1d.west) -- ++(-12,0) |- (p1d\i.east);
    \foreach \n in {p3a,p3b,p3c}
        \draw[link] (plan3.west) -- ++(-14,0) |- (\n.east);
    \draw[link] (p3a.west) -- (p3a1.east);
    \foreach \i in {1,2,3} {
        \draw[link] (p3b.west) -- ++(-12,0) |- (p3b\i.east);
        \draw[link] (p3b\i.west) -- (p3b\i x.east);
    }
    \foreach \i in {1,...,28}
        \draw[link] (p3c.west) -- ++(-12,0) |- (p3c\i.east);
    \foreach \i in {2,5,6,8,15,18}
        \draw[link] (p3c\i.west) -- (p3c\i x.east);
    \foreach \n in {p3c24a,p3c24b,p3c24c}
        \draw[link] (p3c24.west) -- ++(-12,0) |- (\n.east);
    \foreach \n in {p5a,p5b,p5c,p5d,p5e}
        \draw[link] (plan5.west) -- ++(-14,0) |- (\n.east);
    \draw[link] (p5a.west) -- (p5a1.east);
    \foreach \i in {1,2,3}
        \draw[link] (p5b.west) -- ++(-12,0) |- (p5b\i.east);
    \foreach \i in {1,2}
        \draw[link] (p5c.west) -- ++(-12,0) |- (p5c\i.east);
    \foreach \i in {1,...,8}
        \draw[link] (p5d.west) -- ++(-12,0) |- (p5d\i.east);
    \foreach \i in {1,...,6}
        \draw[link] (p5e.west) -- ++(-12,0) |- (p5e\i.east);
    \draw[link] (p5e3.west) -- (p5e3x.east);
    \draw[link] (p5e6.west) -- (p5e6x.east);

    % Watermarks
    \foreach \k in {0,...,7} {
        \node[wmark] (wl\k) at (647,516+1000*\k) {树图 {\wmlatin shutu.cn}};
        \node[wmark] (wr\k) at (1925,516+1000*\k) {树图 {\wmlatin shutu.cn}};
    }
\end{tikzpicture}
\end{document}
